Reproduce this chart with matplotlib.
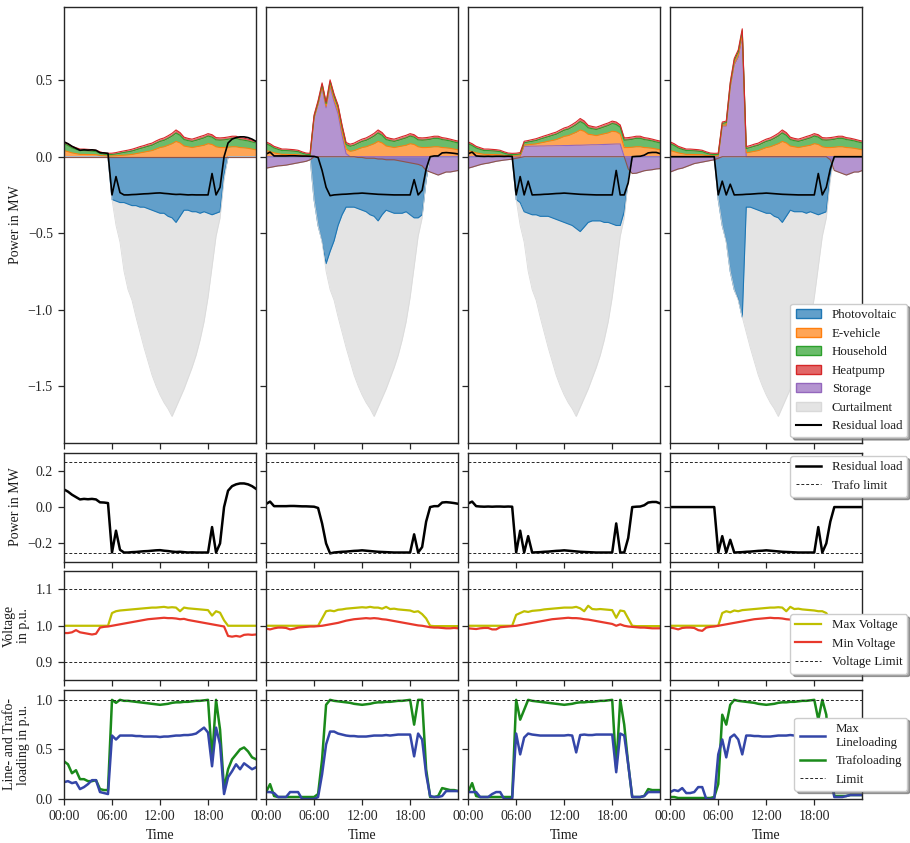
import matplotlib
matplotlib.use("Agg")
import matplotlib.pyplot as plt
from matplotlib.patches import Patch
from matplotlib.lines import Line2D
from matplotlib.ticker import FixedLocator, FuncFormatter
import matplotlib.colors as mcolors
import numpy as np

plt.rcParams['font.family'] = ['Liberation Serif', 'DejaVu Serif']
plt.rcParams['font.size'] = 10
plt.rcParams['axes.edgecolor'] = '0.15'
plt.rcParams['axes.linewidth'] = 1.0
plt.rcParams['xtick.color'] = '0.15'
plt.rcParams['ytick.color'] = '0.15'
plt.rcParams['text.color'] = '0.1'
plt.rcParams['axes.labelcolor'] = '0.1'

# ---------------- data (30-min resolution, 00:00 ... 24:00) ----------------
time_h = [i * 0.5 for i in range(49)]

# shared load / PV potential profiles in MW
ev_load = [0.040, 0.033, 0.025, 0.020, 0.015, 0.015, 0.014, 0.014, 0.013, 0.008, 0.006, 0.004,
           0.005, 0.006, 0.008, 0.010, 0.012, 0.015, 0.020, 0.025, 0.030, 0.035, 0.040, 0.050,
           0.060, 0.065, 0.075, 0.085, 0.100, 0.090, 0.070, 0.065, 0.060, 0.065, 0.070, 0.075,
           0.085, 0.080, 0.065, 0.060, 0.060, 0.062, 0.065, 0.065, 0.060, 0.058, 0.055, 0.050,
           0.045]
household_load = [0.045, 0.040, 0.032, 0.028, 0.025, 0.025, 0.024, 0.022, 0.020, 0.015, 0.010, 0.010,
                  0.010, 0.012, 0.015, 0.018, 0.020, 0.022, 0.025, 0.028, 0.030, 0.033, 0.035, 0.038,
                  0.040, 0.042, 0.045, 0.050, 0.055, 0.050, 0.042, 0.040, 0.040, 0.042, 0.045, 0.048,
                  0.050, 0.048, 0.045, 0.048, 0.050, 0.052, 0.055, 0.055, 0.052, 0.050, 0.048, 0.046,
                  0.045]
heatpump_load = [0.012, 0.012, 0.011, 0.011, 0.010, 0.010, 0.010, 0.010, 0.009, 0.009, 0.008, 0.008,
                 0.008, 0.009, 0.010, 0.010, 0.011, 0.012, 0.012, 0.013, 0.013, 0.014, 0.014, 0.015,
                 0.015, 0.016, 0.017, 0.018, 0.020, 0.018, 0.016, 0.015, 0.015, 0.016, 0.017, 0.017,
                 0.016, 0.016, 0.015, 0.015, 0.015, 0.015, 0.014, 0.014, 0.013, 0.013, 0.012, 0.012,
                 0.012]
pv_potential = [0, 0, 0, 0, 0, 0, 0, 0, 0, 0, 0, 0,
                0.28, 0.45, 0.56, 0.75, 0.87, 0.94, 1.05, 1.15, 1.25, 1.34, 1.43, 1.50,
                1.56, 1.61, 1.65, 1.70, 1.64, 1.58, 1.52, 1.45, 1.38, 1.30, 1.20, 1.08,
                0.92, 0.72, 0.52, 0.40, 0.15, 0, 0, 0, 0, 0, 0, 0,
                0]

# ---- scenario 1 ----
pv_1 = [0, 0, 0, 0, 0, 0, 0, 0, 0, 0, 0, 0,
        0.28, 0.29, 0.30, 0.30, 0.31, 0.32, 0.32, 0.33, 0.33, 0.34, 0.35, 0.36,
        0.37, 0.37, 0.39, 0.40, 0.43, 0.39, 0.35, 0.35, 0.36, 0.36, 0.37, 0.36,
        0.37, 0.38, 0.37, 0.36, 0.12, 0, 0, 0, 0, 0, 0, 0,
        0]
storage_1 = [0.0] * 49
residual_1 = [0.097, 0.085, 0.068, 0.055, 0.042, 0.045, 0.043, 0.045, 0.042, 0.026, 0.025, 0.022,
              -0.250, -0.130, -0.235, -0.250, -0.250, -0.248, -0.247, -0.245, -0.243, -0.242, -0.240, -0.238,
              -0.237, -0.240, -0.242, -0.245, -0.247, -0.246, -0.248, -0.250, -0.249, -0.250, -0.250, -0.250,
              -0.250, -0.110, -0.250, -0.200, 0.000, 0.090, 0.115, 0.125, 0.130, 0.130, 0.125, 0.115,
              0.100]
vmax_1 = [1.0, 1.0, 1.0, 1.0, 1.0, 1.0, 1.0, 1.0, 1.0, 1.0, 1.0, 1.0,
          1.035, 1.040, 1.042, 1.043, 1.044, 1.045, 1.046, 1.047, 1.048, 1.049, 1.050, 1.050,
          1.051, 1.052, 1.050, 1.051, 1.050, 1.040, 1.050, 1.048, 1.047, 1.046, 1.045, 1.044,
          1.043, 1.028, 1.040, 1.036, 1.015, 1.000, 1.000, 1.000, 1.000, 1.000, 1.000, 1.000,
          1.000]
vmin_1 = [0.980, 0.980, 0.982, 0.988, 0.982, 0.980, 0.978, 0.976, 0.978, 0.995, 0.997, 0.998,
          1.000, 1.002, 1.004, 1.006, 1.008, 1.010, 1.012, 1.014, 1.016, 1.018, 1.019, 1.020,
          1.021, 1.022, 1.021, 1.021, 1.020, 1.018, 1.019, 1.016, 1.014, 1.012, 1.010, 1.008,
          1.006, 1.004, 1.002, 1.000, 0.998, 0.972, 0.970, 0.972, 0.970, 0.975, 0.976, 0.975,
          0.976]
trafo_1 = [0.38, 0.35, 0.26, 0.29, 0.20, 0.20, 0.18, 0.18, 0.19, 0.10, 0.09, 0.09,
           1.00, 0.97, 1.00, 0.99, 0.99, 0.985, 0.98, 0.975, 0.97, 0.965, 0.96, 0.955,
           0.95, 0.955, 0.96, 0.97, 0.975, 0.975, 0.98, 0.98, 0.985, 0.99, 0.99, 0.995,
           1.00, 0.40, 1.00, 0.70, 0.10, 0.30, 0.40, 0.45, 0.50, 0.52, 0.48, 0.42,
           0.40]
line_1 = [0.17, 0.18, 0.16, 0.17, 0.10, 0.12, 0.15, 0.19, 0.19, 0.07, 0.06, 0.05,
          0.64, 0.60, 0.64, 0.64, 0.64, 0.64, 0.635, 0.635, 0.63, 0.63, 0.63, 0.63,
          0.625, 0.63, 0.63, 0.635, 0.64, 0.64, 0.645, 0.645, 0.65, 0.66, 0.69, 0.72,
          0.67, 0.33, 0.72, 0.55, 0.05, 0.22, 0.28, 0.35, 0.30, 0.36, 0.33, 0.30,
          0.32]

# ---- scenario 2 ----
pv_2 = [0, 0, 0, 0, 0, 0, 0, 0, 0, 0, 0, 0,
        0.28, 0.45, 0.55, 0.70, 0.62, 0.55, 0.45, 0.38, 0.33, 0.33, 0.33, 0.34,
        0.35, 0.36, 0.38, 0.39, 0.42, 0.38, 0.35, 0.36, 0.37, 0.37, 0.37, 0.36,
        0.38, 0.40, 0.40, 0.38, 0.15, 0, 0, 0, 0, 0, 0, 0,
        0]
storage_2 = [-0.075, -0.070, -0.065, -0.060, -0.058, -0.055, -0.050, -0.045, -0.040, -0.035, -0.030, -0.020,
             0.250, 0.340, 0.450, 0.320, 0.460, 0.360, 0.280, 0.140, 0.020, 0.000, 0.000, -0.005,
             -0.005, -0.010, -0.010, -0.010, -0.015, -0.015, -0.020, -0.020, -0.020, -0.025, -0.030, -0.035,
             -0.040, -0.045, -0.050, -0.060, -0.090, -0.100, -0.110, -0.120, -0.110, -0.100, -0.100, -0.095,
             -0.090]
residual_2 = [0.017, 0.030, 0.005, 0.005, 0.005, 0.005, 0.006, 0.006, 0.005, 0.004, 0.004, 0.003,
              0.002, -0.005, -0.090, -0.200, -0.255, -0.250, -0.248, -0.246, -0.245, -0.243, -0.241, -0.240,
              -0.238, -0.240, -0.242, -0.244, -0.246, -0.247, -0.248, -0.249, -0.250, -0.250, -0.250, -0.250,
              -0.250, -0.150, -0.250, -0.220, -0.080, 0.000, 0.005, 0.005, 0.025, 0.027, 0.025, 0.022,
              0.018]
vmax_2 = [1.0, 1.0, 1.0, 1.0, 1.0, 1.0, 1.0, 1.0, 1.0, 1.0, 1.0, 1.0,
          1.000, 1.000, 1.020, 1.040, 1.042, 1.040, 1.044, 1.045, 1.047, 1.048, 1.049, 1.050,
          1.051, 1.050, 1.052, 1.050, 1.050, 1.047, 1.052, 1.046, 1.047, 1.045, 1.044, 1.043,
          1.042, 1.038, 1.040, 1.032, 1.020, 1.000, 0.999, 0.999, 0.999, 0.999, 0.999, 0.999,
          0.999]
vmin_2 = [0.992, 0.990, 0.993, 0.995, 0.995, 0.994, 0.990, 0.992, 0.995, 0.996, 0.997, 0.998,
          0.998, 0.999, 1.000, 1.002, 1.004, 1.006, 1.008, 1.011, 1.014, 1.016, 1.018, 1.019,
          1.020, 1.021, 1.020, 1.021, 1.020, 1.018, 1.017, 1.015, 1.013, 1.011, 1.009, 1.007,
          1.005, 1.003, 1.001, 1.000, 0.998, 0.996, 0.995, 0.995, 0.994, 0.993, 0.993, 0.994,
          0.993]
trafo_2 = [0.07, 0.15, 0.03, 0.02, 0.02, 0.02, 0.02, 0.02, 0.02, 0.02, 0.02, 0.02,
           0.02, 0.05, 0.40, 0.95, 1.00, 0.99, 0.985, 0.98, 0.975, 0.97, 0.96, 0.955,
           0.95, 0.955, 0.96, 0.97, 0.975, 0.975, 0.98, 0.98, 0.985, 0.99, 0.99, 0.995,
           1.00, 0.75, 1.00, 1.00, 0.30, 0.02, 0.02, 0.03, 0.11, 0.10, 0.09, 0.09,
           0.08]
line_2 = [0.07, 0.07, 0.06, 0.02, 0.02, 0.02, 0.07, 0.07, 0.07, 0.00, 0.00, 0.00,
          0.00, 0.02, 0.25, 0.55, 0.68, 0.68, 0.66, 0.65, 0.64, 0.635, 0.635, 0.63,
          0.63, 0.63, 0.635, 0.64, 0.64, 0.64, 0.645, 0.64, 0.645, 0.65, 0.65, 0.65,
          0.65, 0.43, 0.66, 0.60, 0.25, 0.03, 0.02, 0.02, 0.03, 0.08, 0.08, 0.08,
          0.08]

# ---- scenario 3 ----
pv_3 = [0, 0, 0, 0, 0, 0, 0, 0, 0, 0, 0, 0,
        0.28, 0.30, 0.36, 0.37, 0.38, 0.38, 0.39, 0.39, 0.39, 0.40, 0.41, 0.42,
        0.43, 0.44, 0.45, 0.47, 0.49, 0.46, 0.43, 0.42, 0.42, 0.42, 0.43, 0.43,
        0.44, 0.45, 0.45, 0.36, 0.15, 0, 0, 0, 0, 0, 0, 0,
        0]
storage_3 = [-0.075, -0.068, -0.060, -0.052, -0.046, -0.042, -0.036, -0.030, -0.026, -0.022, -0.019, -0.016,
             -0.010, -0.005, 0.068, 0.068, 0.069, 0.069, 0.070, 0.070, 0.071, 0.071, 0.072, 0.072,
             0.073, 0.073, 0.074, 0.075, 0.075, 0.076, 0.077, 0.078, 0.078, 0.079, 0.080, 0.081,
             0.082, 0.083, 0.083, 0.000, -0.080, -0.110, -0.108, -0.100, -0.092, -0.088, -0.085, -0.080,
             -0.078]
residual_3 = [0.020, 0.030, 0.005, 0.003, 0.002, 0.003, 0.002, 0.003, 0.003, 0.002, 0.003, 0.002,
              -0.250, -0.130, -0.250, -0.160, -0.250, -0.249, -0.248, -0.246, -0.245, -0.243, -0.241, -0.240,
              -0.238, -0.240, -0.242, -0.244, -0.246, -0.247, -0.248, -0.249, -0.250, -0.250, -0.250, -0.250,
              -0.250, -0.090, -0.250, -0.250, -0.170, 0.000, 0.002, 0.003, 0.010, 0.025, 0.028, 0.028,
              0.020]
vmax_3 = [1.0, 1.0, 1.0, 1.0, 1.0, 1.0, 1.0, 1.0, 1.0, 1.0, 1.0, 1.0,
          1.030, 1.035, 1.040, 1.038, 1.041, 1.042, 1.043, 1.045, 1.046, 1.047, 1.048, 1.049,
          1.050, 1.050, 1.050, 1.052, 1.048, 1.040, 1.055, 1.046, 1.045, 1.046, 1.045, 1.044,
          1.043, 1.022, 1.042, 1.040, 1.020, 1.000, 0.999, 0.999, 0.999, 0.999, 0.999, 0.999,
          0.999]
vmin_3 = [0.993, 0.992, 0.991, 0.993, 0.994, 0.994, 0.990, 0.990, 0.996, 0.997, 0.998, 0.999,
          1.000, 1.002, 1.004, 1.006, 1.008, 1.010, 1.012, 1.014, 1.016, 1.018, 1.019, 1.020,
          1.021, 1.022, 1.021, 1.021, 1.020, 1.018, 1.017, 1.015, 1.013, 1.011, 1.009, 1.007,
          1.005, 1.000, 1.004, 1.000, 0.998, 0.997, 0.996, 0.995, 0.995, 0.994, 0.993, 0.993,
          0.993]
trafo_3 = [0.07, 0.16, 0.03, 0.02, 0.02, 0.02, 0.02, 0.02, 0.02, 0.02, 0.02, 0.02,
           1.00, 0.80, 0.90, 1.00, 0.99, 0.985, 0.98, 0.975, 0.97, 0.965, 0.96, 0.955,
           0.95, 0.955, 0.96, 0.97, 0.975, 0.975, 0.98, 0.98, 0.985, 0.99, 0.99, 0.995,
           1.00, 0.31, 1.00, 0.75, 0.35, 0.02, 0.02, 0.02, 0.03, 0.10, 0.09, 0.09,
           0.09]
line_3 = [0.07, 0.07, 0.07, 0.02, 0.02, 0.02, 0.05, 0.07, 0.07, 0.00, 0.00, 0.00,
          0.66, 0.45, 0.62, 0.66, 0.65, 0.645, 0.64, 0.64, 0.64, 0.64, 0.64, 0.64,
          0.64, 0.645, 0.64, 0.47, 0.645, 0.65, 0.645, 0.645, 0.65, 0.65, 0.65, 0.65,
          0.65, 0.27, 0.66, 0.64, 0.35, 0.02, 0.02, 0.02, 0.03, 0.07, 0.07, 0.07,
          0.07]

# ---- scenario 4 ----
pv_4 = [0, 0, 0, 0, 0, 0, 0, 0, 0, 0, 0, 0,
        0.28, 0.45, 0.55, 0.75, 0.87, 0.93, 1.05, 0.33, 0.33, 0.34, 0.35, 0.36,
        0.37, 0.37, 0.39, 0.40, 0.43, 0.39, 0.35, 0.36, 0.36, 0.36, 0.37, 0.36,
        0.37, 0.38, 0.37, 0.36, 0.12, 0, 0, 0, 0, 0, 0, 0,
        0]
storage_4 = [-0.100, -0.090, -0.080, -0.075, -0.065, -0.055, -0.045, -0.040, -0.035, -0.030, -0.025, -0.020,
             -0.010, 0.200, 0.200, 0.450, 0.600, 0.650, 0.780, 0.000, 0.000, 0.000, 0.000, 0.000,
             0.000, 0.000, 0.000, 0.000, 0.000, 0.000, 0.000, 0.000, 0.000, 0.000, 0.000, 0.000,
             0.000, 0.000, 0.000, 0.000, -0.020, -0.090, -0.100, -0.110, -0.120, -0.110, -0.100, -0.100,
             -0.090]
residual_4 = [0.0, 0.0, 0.0, 0.0, 0.0, 0.0, 0.0, 0.0, 0.0, 0.0, 0.0, 0.0,
              -0.250, -0.160, -0.250, -0.180, -0.250, -0.249, -0.248, -0.246, -0.245, -0.243, -0.241, -0.240,
              -0.238, -0.240, -0.242, -0.244, -0.246, -0.247, -0.248, -0.249, -0.250, -0.250, -0.250, -0.250,
              -0.250, -0.110, -0.250, -0.200, -0.080, 0.000, 0.000, 0.000, 0.000, 0.000, 0.000, 0.000,
              0.000]
vmax_4 = [1.0, 1.0, 1.0, 1.0, 1.0, 1.0, 1.0, 1.0, 1.0, 1.0, 1.0, 1.0,
          1.000, 1.035, 1.040, 1.037, 1.042, 1.040, 1.043, 1.044, 1.045, 1.046, 1.047, 1.048,
          1.049, 1.050, 1.050, 1.051, 1.050, 1.040, 1.052, 1.046, 1.047, 1.045, 1.044, 1.043,
          1.042, 1.040, 1.040, 1.035, 1.015, 1.000, 1.000, 1.000, 1.000, 1.000, 1.000, 1.000,
          1.000]
vmin_4 = [0.995, 0.993, 0.990, 0.994, 0.995, 0.995, 0.994, 0.988, 0.986, 0.995, 0.997, 0.998,
          1.000, 1.002, 1.004, 1.006, 1.008, 1.010, 1.012, 1.014, 1.016, 1.018, 1.019, 1.020,
          1.021, 1.022, 1.021, 1.021, 1.020, 1.018, 1.017, 1.015, 1.013, 1.011, 1.009, 1.007,
          1.005, 1.003, 1.001, 1.000, 0.998, 0.997, 0.996, 0.995, 0.995, 0.994, 0.993, 0.993,
          0.993]
trafo_4 = [0.02, 0.02, 0.01, 0.01, 0.01, 0.01, 0.01, 0.01, 0.01, 0.01, 0.01, 0.02,
           0.15, 0.85, 0.75, 0.95, 1.00, 0.99, 0.985, 0.98, 0.975, 0.97, 0.96, 0.955,
           0.95, 0.955, 0.96, 0.97, 0.975, 0.975, 0.98, 0.98, 0.985, 0.99, 0.99, 0.995,
           1.00, 0.80, 1.00, 0.85, 0.30, 0.03, 0.03, 0.03, 0.03, 0.04, 0.04, 0.04,
           0.04]
line_4 = [0.07, 0.09, 0.08, 0.11, 0.06, 0.06, 0.07, 0.12, 0.12, 0.00, 0.00, 0.00,
          0.45, 0.60, 0.42, 0.62, 0.65, 0.60, 0.45, 0.64, 0.64, 0.635, 0.635, 0.63,
          0.63, 0.63, 0.635, 0.64, 0.64, 0.64, 0.645, 0.64, 0.645, 0.65, 0.65, 0.65,
          0.65, 0.45, 0.66, 0.60, 0.25, 0.02, 0.02, 0.02, 0.03, 0.04, 0.04, 0.04,
          0.04]

trafo_limit = 0.25
voltage_limits = [0.9, 1.1]
loading_limit = 1.0
x_ticks = [0, 6, 12, 18]

scenarios = [
    dict(pv=pv_1, st=storage_1, res=residual_1, vmax=vmax_1, vmin=vmin_1, tr=trafo_1, ln=line_1),
    dict(pv=pv_2, st=storage_2, res=residual_2, vmax=vmax_2, vmin=vmin_2, tr=trafo_2, ln=line_2),
    dict(pv=pv_3, st=storage_3, res=residual_3, vmax=vmax_3, vmin=vmin_3, tr=trafo_3, ln=line_3),
    dict(pv=pv_4, st=storage_4, res=residual_4, vmax=vmax_4, vmin=vmin_4, tr=trafo_4, ln=line_4),
]

# ---------------- styling ----------------
C_PV, C_EV, C_HH, C_HP, C_ST = '#1f77b4', '#ff7f0e', '#2ca02c', '#d62728', '#9467bd'
C_ST_NEG = '#8c564b'
C_CURT = 'lightgray'
C_VMAX, C_VMIN = '#bfbf00', '#e8392c'
C_LINE, C_TRAFO = '#3446a8', '#1a8a1a'
AREA_ALPHA = 0.7
LEG_FS = 9.3
DASH = dict(color='0.15', lw=0.7, ls=(0, (3, 2)))

fig = plt.figure(figsize=(9.1, 8.43), dpi=100)
gs = fig.add_gridspec(4, 4, height_ratios=[4, 1, 1, 1],
                      left=0.0703, right=0.9476, top=0.9921, bottom=0.0522,
                      hspace=0.0505, wspace=0.052)
axes = np.empty((4, 4), dtype=object)
for r in range(4):
    for c in range(4):
        kw = {}
        if r > 0:
            kw['sharex'] = axes[0, c]
        if c > 0:
            kw['sharey'] = axes[r, 0]
        axes[r, c] = fig.add_subplot(gs[r, c], **kw)

t = np.array(time_h)
ev = np.array(ev_load)
hh = np.array(household_load)
hp = np.array(heatpump_load)
pot = np.array(pv_potential)

for c, s in enumerate(scenarios):
    ax = axes[0, c]
    pv = np.array(s['pv'])
    st = np.array(s['st'])
    st_pos = np.clip(st, 0, None)
    st_neg = np.clip(st, None, 0)
    # PV fed in and curtailment (negative)
    ax.fill_between(t, 0, -pv, color=C_PV, alpha=AREA_ALPHA, lw=0)
    ax.plot(t, -pv, color=C_PV, lw=0.8)
    ax.fill_between(t, -pv, -pot, color=C_CURT, alpha=0.6, lw=0)
    ax.plot(t, -pot, color='0.86', lw=0.6)
    # positive stack: storage charging, EV, household, heatpump
    b0 = st_pos
    b1 = b0 + ev
    b2 = b1 + hh
    b3 = b2 + hp
    for lo, hi, col in [(0 * b0, b0, C_ST), (b0, b1, C_EV), (b1, b2, C_HH), (b2, b3, C_HP)]:
        ax.fill_between(t, lo, hi, color=col, alpha=AREA_ALPHA, lw=0)
        ax.plot(t, hi, color=col, lw=0.8)
    # storage discharging (negative)
    ax.fill_between(t, 0, st_neg, color=C_ST, alpha=AREA_ALPHA, lw=0)
    ax.plot(t, st_neg, color=C_ST_NEG, lw=0.8)
    ax.plot(t, s['res'], color='black', lw=1.2)

    # residual load
    ax = axes[1, c]
    ax.plot(t, s['res'], color='black', lw=1.8)
    ax.axhline(trafo_limit, **DASH)
    ax.axhline(-trafo_limit, **DASH)

    # voltage
    ax = axes[2, c]
    ax.plot(t, s['vmax'], color=C_VMAX, lw=1.6)
    ax.plot(t, s['vmin'], color=C_VMIN, lw=1.6)
    for v in voltage_limits:
        ax.axhline(v, **DASH)

    # loading
    ax = axes[3, c]
    ax.plot(t, s['tr'], color=C_TRAFO, lw=1.8)
    ax.plot(t, s['ln'], color=C_LINE, lw=1.8)
    ax.axhline(loading_limit, **DASH)

# axes formatting
ylims = [(-1.873, 0.982), (-0.3, 0.3), (0.85, 1.15), (0.0, 1.1)]
yticks = [[-1.5, -1.0, -0.5, 0.0, 0.5], [-0.2, 0.0, 0.2], [0.9, 1.0, 1.1], [0.0, 0.5, 1.0]]
for r in range(4):
    for c in range(4):
        ax = axes[r, c]
        ax.set_xlim(0, 24)
        ax.set_ylim(*ylims[r])
        ax.yaxis.set_major_locator(FixedLocator(yticks[r]))
        ax.xaxis.set_major_locator(FixedLocator(x_ticks))
        ax.xaxis.set_major_formatter(FuncFormatter(lambda v, p: f"{int(v):02d}:00"))
        ax.tick_params(direction='out', length=4.5, width=0.9, labelsize=10,
                       top=False, right=False)
        if r < 3:
            ax.tick_params(labelbottom=False)
        else:
            ax.set_xlabel('Time', fontsize=10)
        if c > 0:
            ax.tick_params(labelleft=False)

axes[0, 0].set_ylabel('Power in MW')
axes[1, 0].set_ylabel('Power in MW')
axes[2, 0].set_ylabel('Voltage\nin p.u.', linespacing=1.1)
axes[3, 0].set_ylabel('Line- and Trafo-\nloading in p.u.', linespacing=1.1)


def patch(col, edge=None):
    return Patch(facecolor=mcolors.to_rgba(col, AREA_ALPHA), edgecolor=edge or col, lw=1.0)


leg_kw = dict(fontsize=LEG_FS, shadow=True, framealpha=1.0, borderaxespad=0.0,
              edgecolor='0.8', facecolor='white')

h_top = [patch(C_PV), patch(C_EV), patch(C_HH), patch(C_HP), patch(C_ST),
         Patch(facecolor=mcolors.to_rgba(C_CURT, 0.6), edgecolor='0.85', lw=1.0),
         Line2D([], [], color='black', lw=1.5)]
l_top = ['Photovoltaic', 'E-vehicle', 'Household', 'Heatpump', 'Storage', 'Curtailment', 'Residual load']
axes[0, 3].legend(h_top, l_top, loc='lower right', bbox_to_anchor=(1.235, 0.013), **leg_kw)

h2 = [Line2D([], [], color='black', lw=1.8), Line2D([], [], **DASH)]
axes[1, 3].legend(h2, ['Residual load', 'Trafo limit'], loc='upper right',
                  bbox_to_anchor=(1.235, 0.969), **leg_kw)

h3 = [Line2D([], [], color=C_VMAX, lw=1.6), Line2D([], [], color=C_VMIN, lw=1.6), Line2D([], [], **DASH)]
axes[2, 3].legend(h3, ['Max Voltage', 'Min Voltage', 'Voltage Limit'], loc='lower right',
                  bbox_to_anchor=(1.235, 0.061), **leg_kw)

h4 = [Line2D([], [], color=C_LINE, lw=1.8), Line2D([], [], color=C_TRAFO, lw=1.8), Line2D([], [], **DASH)]
axes[3, 3].legend(h4, ['Max\nLineloading', 'Trafoloading', 'Limit'], loc='lower right',
                  bbox_to_anchor=(1.235, 0.076), **leg_kw)

for ax in axes.flat:
    ax.set_zorder(1)
for r in range(4):
    axes[r, 3].set_zorder(5)

fig.savefig('out.png', dpi=100)
